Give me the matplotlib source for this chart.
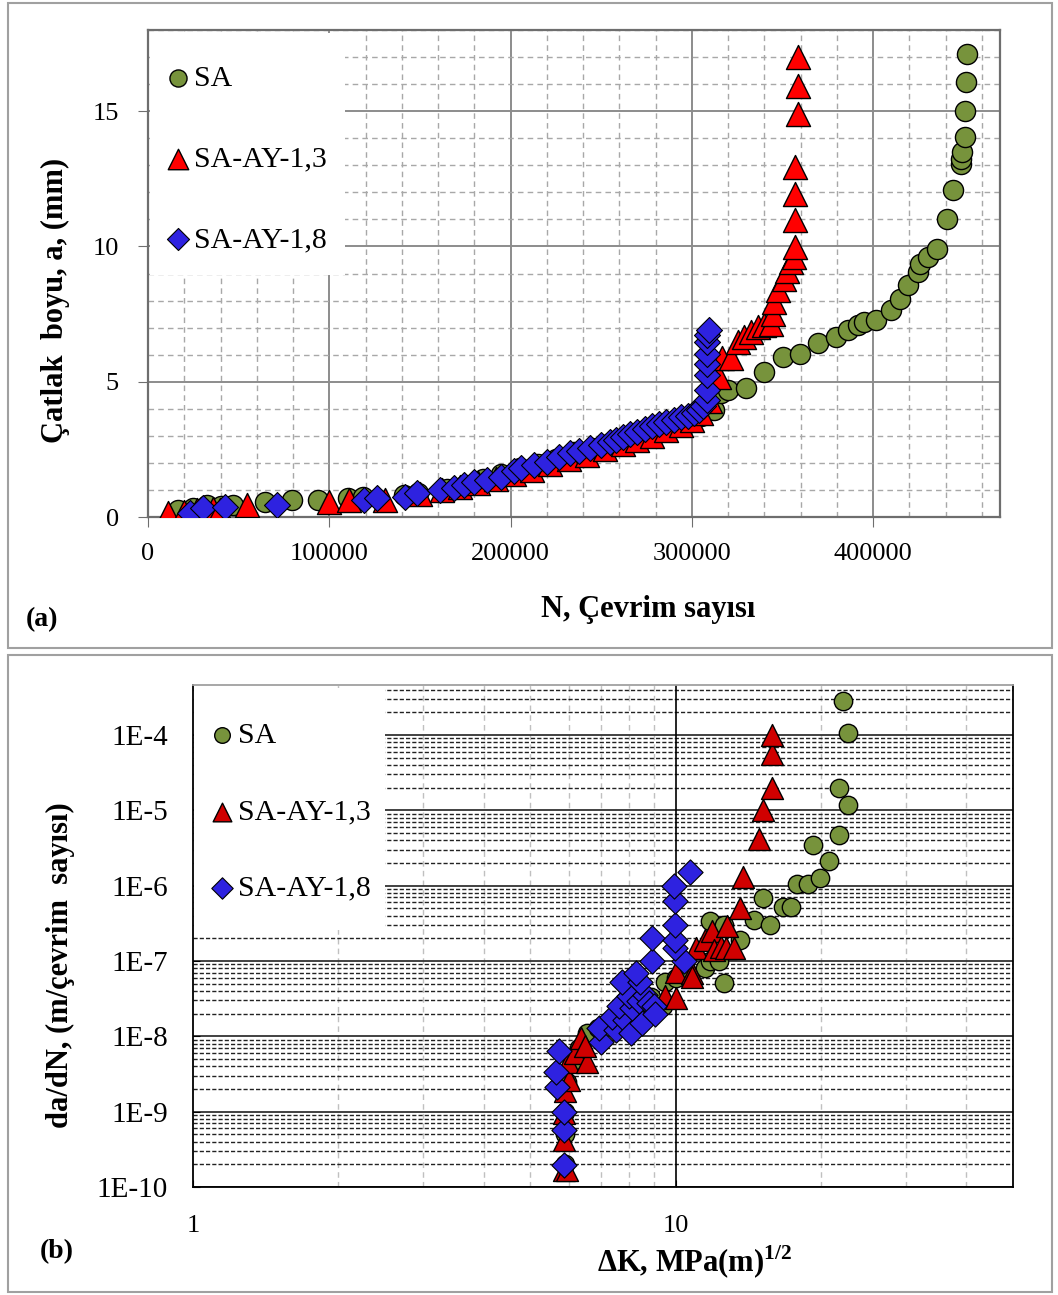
import math
import matplotlib
matplotlib.use("Agg")
import matplotlib.pyplot as plt
from matplotlib.ticker import FixedLocator, MultipleLocator, FuncFormatter, LogLocator, NullFormatter
from matplotlib.patches import Rectangle

plt.rcParams['font.family'] = ['Liberation Serif', 'DejaVu Serif']
plt.rcParams['mathtext.fontset'] = 'custom'
plt.rcParams['mathtext.rm'] = 'Liberation Serif'
plt.rcParams['mathtext.bf'] = 'Liberation Serif:bold'

# ---------------- (a) crack length vs. number of cycles ----------------
sa_N = [16600, 25000, 32600, 40000, 47000, 64600, 79600, 94000, 110500, 118800,
        141000, 149000, 165000, 175000, 185000, 195000, 205000, 215000, 225000,
        235000, 245000, 255000, 265000, 275000, 285000, 292000, 300000, 305000,
        308000, 312300, 316000, 319700, 329800, 339800, 350100, 359800, 369400,
        379600, 386000, 391500, 395200, 401700, 409900, 415100, 419500, 424600,
        425600, 430100, 435400, 440700, 444000, 448300, 448600, 449200, 450500,
        450800, 451400, 451900]
sa_a = [0.26, 0.35, 0.44, 0.42, 0.44, 0.55, 0.63, 0.63, 0.70, 0.74,
        0.81, 0.88, 1.05, 1.20, 1.40, 1.60, 1.80, 1.95, 2.15,
        2.40, 2.55, 2.75, 2.95, 3.15, 3.35, 3.50, 3.65, 3.75,
        3.90, 3.95, 4.60, 4.69, 4.75, 5.36, 5.92, 6.04, 6.43,
        6.65, 6.92, 7.08, 7.20, 7.27, 7.64, 8.07, 8.56, 9.05,
        9.36, 9.60, 9.91, 11.02, 12.07, 13.03, 13.23, 13.48, 14.03,
        15.02, 16.06, 17.11]

ay13_N = [11200, 20000, 27000, 36000, 39800, 54500, 99600, 110700, 130900,
          150000, 162000, 172000, 182000, 192000, 202000, 212000, 222000,
          232000, 242000, 252000, 262000, 270000, 278000, 286000, 294000,
          300000, 305000, 310000, 315100, 316900, 321500, 325200, 328900,
          332600, 336300, 340000, 343600, 344600, 345500, 347300, 351000,
          352500, 354700, 356200, 356900, 357100, 357100, 357100, 358300,
          358300, 358300]
ay13_a = [0.14, 0.20, 0.25, 0.30, 0.26, 0.44, 0.56, 0.63, 0.63,
          0.85, 0.98, 1.10, 1.25, 1.40, 1.60, 1.75, 1.95,
          2.15, 2.30, 2.50, 2.70, 2.85, 3.00, 3.20, 3.40,
          3.60, 3.85, 4.30, 5.18, 5.86, 5.86, 6.47, 6.65,
          6.84, 7.02, 7.08, 7.15, 7.52, 7.94, 8.38, 8.81,
          9.11, 9.42, 9.60, 9.97, 10.96, 11.94, 12.93, 14.90,
          15.94, 16.99]

ay18_N = [23200, 30600, 42500, 71100, 118900, 126300, 142000, 148400, 161300,
          168700, 174200, 179700, 187100, 194500, 201800, 205500, 212900,
          220000, 227000, 233000, 238000, 244000, 250000, 255000, 258000,
          262000, 266000, 270000, 274000, 278000, 282000, 286000, 290000,
          294000, 298000, 301000, 304000, 306000, 308600, 308600, 308600,
          308600, 308600, 308600, 308600, 309500]
ay18_a = [0.14, 0.32, 0.38, 0.44, 0.63, 0.69, 0.75, 0.87, 1.00,
          1.06, 1.18, 1.30, 1.37, 1.49, 1.70, 1.80, 1.92,
          2.05, 2.20, 2.35, 2.45, 2.55, 2.65, 2.78, 2.85,
          2.95, 3.05, 3.15, 3.25, 3.35, 3.42, 3.50, 3.60,
          3.68, 3.75, 3.83, 3.95, 4.10, 4.32, 4.69, 5.24,
          5.67, 6.04, 6.47, 6.72, 6.90]

# ---------------- (b) crack growth rate vs. stress intensity range ----------------
sa_dK = [5.9, 5.9, 5.9, 5.95, 6.1, 6.3, 6.55, 6.9, 7.3, 7.8, 8.3, 8.9, 9.4, 9.5,
         10.0, 10.5, 11.5, 11.8, 12.3, 12.6, 11.8, 12.6, 13.6, 14.5, 15.2, 15.7,
         16.7, 17.3, 17.8, 18.8, 19.3, 19.9, 20.8, 21.8, 22.8, 21.8, 22.8, 22.2]
sa_rate = [2.0e-10, 5.0e-10, 1.0e-9, 2.5e-9, 4.5e-9, 7.0e-9, 1.1e-8, 1.3e-8, 1.6e-8,
           2.0e-8, 2.6e-8, 3.3e-8, 2.5e-8, 5.3e-8, 6.0e-8, 7.5e-8, 8.1e-8, 1.0e-7,
           1.0e-7, 5.1e-8, 3.4e-7, 3.0e-7, 1.9e-7, 3.5e-7, 6.9e-7, 3.0e-7, 5.2e-7,
           5.2e-7, 1.05e-6, 1.05e-6, 3.5e-6, 1.26e-6, 2.1e-6, 4.7e-6, 1.17e-5,
           2.0e-5, 1.07e-4, 2.8e-4]

ay13_dK = [5.87, 5.95, 5.87, 5.87, 5.9, 6.0, 5.97, 6.2, 6.56, 6.36, 6.5, 7.6, 8.3,
           9.5, 10.0, 10.0, 10.8, 10.8, 11.0, 11.5, 11.9, 12.0, 12.4, 12.7, 13.2,
           12.8, 13.6, 13.8, 14.9, 15.2, 15.8, 15.8, 15.8]
ay13_rate = [1.7e-10, 1.7e-10, 4.2e-10, 9.6e-10, 1.9e-9, 2.6e-9, 4.6e-9, 6.0e-9,
             4.6e-9, 9.4e-9, 7.5e-9, 2.3e-8, 3.2e-8, 3.4e-8, 3.2e-8, 7.2e-8, 6.9e-8,
             6.2e-8, 1.5e-7, 1.9e-7, 2.5e-7, 1.4e-7, 1.55e-7, 1.5e-7, 1.5e-7, 2.9e-7,
             5.0e-7, 1.3e-6, 4.1e-6, 1.0e-5, 2.0e-5, 5.5e-5, 1.0e-4]

ay18_dK = [5.87, 5.87, 5.87, 5.69, 5.64, 5.74, 6.99, 6.93, 7.52, 7.38, 7.86, 8.1,
           8.52, 7.62, 8.12, 7.99, 8.4, 8.65, 8.79, 9.0, 9.07, 7.74, 8.45, 8.27,
           8.95, 8.95, 10.4, 9.95, 9.95, 9.95, 9.95, 9.9, 10.7]
ay18_rate = [1.95e-10, 5.7e-10, 1.0e-9, 2.1e-9, 3.4e-9, 6.3e-9, 8.5e-9, 1.3e-8,
             1.2e-8, 1.8e-8, 1.66e-8, 1.1e-8, 1.5e-8, 2.5e-8, 2.4e-8, 3.4e-8,
             2.9e-8, 3.55e-8, 2.75e-8, 2.5e-8, 2.0e-8, 5.2e-8, 5.2e-8, 6.9e-8,
             1.0e-7, 2.0e-7, 1.0e-7, 1.5e-7, 1.9e-7, 3.0e-7, 6.2e-7, 1.0e-6, 1.5e-6]

series_labels = ["SA", "SA-AY-1,3", "SA-AY-1,8"]
green = "#77933C"
red_a = "#FF0000"
red_b = "#D00000"
blue = "#2E22E0"

W, H = 1058, 1295
fig = plt.figure(figsize=(W / 100, H / 100), dpi=100)


def fx(px):
    return px / W


def fy(py):
    return 1 - py / H


# panel frames
for (y0, y1) in [(3, 648), (655, 1292)]:
    fig.patches.append(Rectangle((fx(8), fy(y1)), (1052 - 8) / W, (y1 - y0) / H,
                                 transform=fig.transFigure, fill=False,
                                 edgecolor="#A0A0A0", linewidth=1.5, zorder=0))

TICK_FS = 19
LAB_FS = 22
LEG_FS = 21.5


def legend_block(ax, handles, box_px, anchor_px, spacing):
    # white backing behind the legend that hides the grid
    x0, y0, x1, y1 = box_px
    ax.add_patch(Rectangle((fx(x0), fy(y1)), (x1 - x0) / W, (y1 - y0) / H,
                           transform=fig.transFigure, facecolor="white",
                           edgecolor="none", zorder=2))
    leg = ax.legend(handles, series_labels, loc="upper left",
                    bbox_to_anchor=(fx(anchor_px[0]), fy(anchor_px[1])),
                    bbox_transform=fig.transFigure, borderaxespad=0.0,
                    fontsize=LEG_FS, frameon=False, labelspacing=spacing,
                    handletextpad=0.17, borderpad=0.0, handlelength=0.7,
                    markerscale=0.85)
    leg.set_zorder(10)
    return leg


# ---------- panel (a) ----------
ax1 = fig.add_axes([fx(148), fy(517), (1000 - 148) / W, (517 - 30) / H])
ax1.set_xlim(0, 470000)
ax1.set_ylim(0, 18)
ax1.xaxis.set_major_locator(FixedLocator([0, 100000, 200000, 300000, 400000]))
ax1.xaxis.set_minor_locator(MultipleLocator(20000))
ax1.yaxis.set_major_locator(FixedLocator([0, 5, 10, 15]))
ax1.yaxis.set_minor_locator(MultipleLocator(1))
ax1.grid(True, which="major", color="#8C8C8C", linewidth=1.4, linestyle="-")
ax1.grid(True, which="minor", color="#A8A8A8", linewidth=1.0, linestyle=(0, (4, 3)))
ax1.set_axisbelow(True)
for s in ax1.spines.values():
    s.set_color("#6E6E6E")
    s.set_linewidth(1.6)
ax1.tick_params(which="major", direction="out", length=7, color="#6E6E6E",
                labelsize=TICK_FS)
ax1.tick_params(axis="x", which="major", pad=12)
ax1.tick_params(axis="y", which="major", pad=14)
ax1.tick_params(which="minor", length=0)
ax1.xaxis.set_major_formatter(FuncFormatter(lambda v, p: f"{int(v)}"))

h1 = ax1.scatter(sa_N, sa_a, s=210, marker="o", facecolor=green, edgecolor="black",
                 linewidth=1.0, zorder=3)
h2 = ax1.scatter(ay13_N, ay13_a, s=300, marker="^", facecolor=red_a, edgecolor="black",
                 linewidth=1.0, zorder=4)
h3 = ax1.scatter(ay18_N, ay18_a, s=175, marker="D", facecolor=blue, edgecolor="black",
                 linewidth=0.8, zorder=5)

legend_block(ax1, [h1, h2, h3], (150, 33, 345, 275), (168, 65), 1.8)

ax1.set_ylabel("Çatlak  boyu, a, (mm)", fontsize=LAB_FS, fontweight="bold")
ax1.yaxis.set_label_coords(-(148 - 70) / (1000 - 148), (517 - 300) / (517 - 30))
fig.text(fx(648), fy(610), "N, Çevrim sayısı", fontsize=LAB_FS, fontweight="bold",
         ha="center", va="center")
fig.text(fx(42), fy(620), "(a)", fontsize=20, fontweight="bold",
         ha="center", va="center")

# ---------- panel (b) ----------
ax2 = fig.add_axes([fx(193), fy(1187), (1013 - 193) / W, (1187 - 685) / H])
ax2.set_xscale("log")
ax2.set_yscale("log")
ax2.set_xlim(1, 50)
ax2.set_ylim(1e-10, 4.6e-4)

ax2.xaxis.set_major_locator(FixedLocator([1, 10]))
ax2.xaxis.set_major_formatter(FuncFormatter(lambda v, p: f"{int(round(v))}"))
ax2.xaxis.set_minor_locator(LogLocator(base=10, subs=range(2, 10), numticks=20))
ax2.xaxis.set_minor_formatter(NullFormatter())
ax2.yaxis.set_major_locator(FixedLocator([10.0 ** e for e in range(-10, -3)]))
ax2.yaxis.set_major_formatter(FuncFormatter(
    lambda v, p: "1E-{:d}".format(int(round(-math.log10(v))))))
ax2.yaxis.set_minor_locator(LogLocator(base=10, subs=range(2, 10), numticks=20))
ax2.yaxis.set_minor_formatter(NullFormatter())

ax2.grid(True, axis="y", which="major", color="#333333", linewidth=1.3, linestyle="-")
ax2.grid(True, axis="y", which="minor", color="#222222", linewidth=1.0,
         linestyle=(0, (3, 1.5)))
ax2.grid(True, axis="x", which="minor", color="#C0C0C0", linewidth=1.0,
         linestyle=(0, (4, 3)))
ax2.axvline(10, color="black", linewidth=1.2, zorder=1)
ax2.set_axisbelow(True)
for name, s in ax2.spines.items():
    s.set_color("black" if name in ("left", "bottom", "right") else "#A0A0A0")
    s.set_linewidth(1.3)
ax2.tick_params(which="major", direction="in", length=5, labelsize=TICK_FS)
ax2.tick_params(axis="y", which="major", labelsize=21, pad=18)
ax2.tick_params(axis="x", which="major", pad=20)
ax2.tick_params(which="minor", length=0)

g1 = ax2.scatter(sa_dK, sa_rate, s=175, marker="o", facecolor=green, edgecolor="black",
                 linewidth=1.0, zorder=3)
g2 = ax2.scatter(ay13_dK, ay13_rate, s=250, marker="^", facecolor=red_b, edgecolor="black",
                 linewidth=1.0, zorder=4)
g3 = ax2.scatter(ay18_dK, ay18_rate, s=165, marker="D", facecolor=blue, edgecolor="black",
                 linewidth=0.8, zorder=5)

legend_block(ax2, [g1, g2, g3], (194, 688, 385, 930), (212, 722), 1.66)

ax2.set_ylabel("da/dN, (m/çevrim  sayısı)", fontsize=LAB_FS, fontweight="bold")
ax2.yaxis.set_label_coords(-(193 - 75) / (1013 - 193), (1187 - 965) / (1187 - 685))
fig.text(fx(695), fy(1262), r"ΔK, MPa(m)$^{\mathbf{1/2}}$", fontsize=LAB_FS,
         fontweight="bold", ha="center", va="center")
fig.text(fx(57), fy(1252), "(b)", fontsize=20, fontweight="bold",
         ha="center", va="center")

fig.savefig("out.png", dpi=100, facecolor="white")
